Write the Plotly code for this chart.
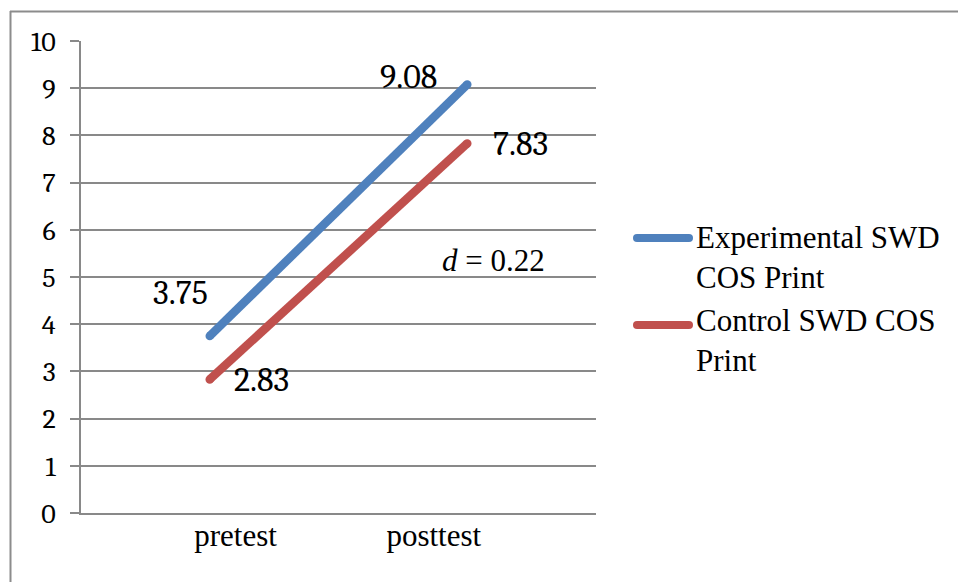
import plotly.graph_objects as go

categories = ["pretest", "posttest"]
experimental = [3.75, 9.08]
control = [2.83, 7.83]
series_names = ["Experimental SWD<br>COS Print", "Control SWD COS<br>Print"]
y_ticks = list(range(0, 11))
effect_label = "<i>d</i> = 0.22"

BLUE = "#4F81BD"
RED = "#C0504D"
GRID = "#898989"
SERIF = "Liberation Serif"
NUM = "Caladea"

L, R, T, B = 81, 596, 41, 513
W, H = R - L, B - T


def px(x):
    return (x - L) / W


def py(y):
    return (B - y) / H


xpos = list(range(len(categories)))
colors = [BLUE, RED]
series = [experimental, control]

fig = go.Figure()
for name, vals, col in zip(series_names, series, colors):
    fig.add_trace(go.Scatter(x=xpos, y=vals, mode="lines", name=name, showlegend=False,
                             line=dict(color=col, width=8.5)))
for vals, col in zip(series, colors):
    fig.add_trace(go.Scatter(x=xpos, y=vals, mode="markers", showlegend=False,
                             marker=dict(color=col, size=8.5, line=dict(width=0)),
                             hoverinfo="skip"))

# data labels
label_offsets = {
    (0, 0): (-29, -43), (0, 1): (-59, -7),
    (1, 0): (52, 1), (1, 1): (53, 1),
}
for si, vals in enumerate(series):
    for ci, v in enumerate(vals):
        dx, dy = label_offsets[(si, ci)]
        fig.add_annotation(x=xpos[ci], y=v, text=f"{v:.2f}", showarrow=False,
                           xshift=dx, yshift=-dy,
                           font=dict(family=NUM, size=34, color="#000"))

fig.add_annotation(x=1.102, y=5.36, text=effect_label, showarrow=False,
                   font=dict(family=SERIF, size=31, color="#000"))

# legend (drawn manually to match layout)
legend_sym_y = [238, 325]
legend_text_y = [257, 340]
for name, col, sy, ty in zip(series_names, colors, legend_sym_y, legend_text_y):
    fig.add_shape(type="line", xref="paper", yref="paper",
                  x0=px(637), x1=px(689), y0=py(sy), y1=py(sy),
                  line=dict(color=col, width=8))
    fig.add_shape(type="circle", xref="paper", yref="paper",
                  x0=px(633), x1=px(641), y0=py(sy - 4), y1=py(sy + 4),
                  fillcolor=col, line=dict(width=0))
    fig.add_shape(type="circle", xref="paper", yref="paper",
                  x0=px(685), x1=px(693), y0=py(sy - 4), y1=py(sy + 4),
                  fillcolor=col, line=dict(width=0))
    fig.add_annotation(xref="paper", yref="paper", x=px(694), y=py(ty),
                       xanchor="left", yanchor="middle", align="left",
                       text=name, showarrow=False,
                       font=dict(family=SERIF, size=31, color="#000"))

# outer frame (top and left)
fig.add_shape(type="line", xref="paper", yref="paper",
              x0=px(10), x1=px(958), y0=py(11.5), y1=py(11.5),
              line=dict(color="#8c8c8c", width=2))
fig.add_shape(type="line", xref="paper", yref="paper",
              x0=px(10.5), x1=px(10.5), y0=py(11), y1=py(582),
              line=dict(color="#8c8c8c", width=2))

fig.update_layout(
    width=958, height=582,
    margin=dict(l=L, r=958 - R, t=T, b=582 - B, autoexpand=False),
    paper_bgcolor="white", plot_bgcolor="white",
    showlegend=False,
    xaxis=dict(range=[-0.5, 1.5], tickmode="array", tickvals=[0.1, 0.87],
               ticktext=categories, showgrid=False, zeroline=False,
               showline=True, linecolor=GRID, linewidth=1.5, ticks="",
               ticklabelstandoff=-6,
               tickfont=dict(family=SERIF, size=31, color="#000")),
    yaxis=dict(range=[0, 10], tickmode="array", tickvals=y_ticks,
               showgrid=True, gridcolor=GRID, gridwidth=1.5, zeroline=False,
               showline=True, linecolor=GRID, linewidth=1.5,
               ticks="outside", ticklen=9, tickcolor=GRID, tickwidth=1.5,
               ticklabelstandoff=9,
               tickfont=dict(family=NUM, size=28, color="#000")),
)

fig.write_html("out.html")
